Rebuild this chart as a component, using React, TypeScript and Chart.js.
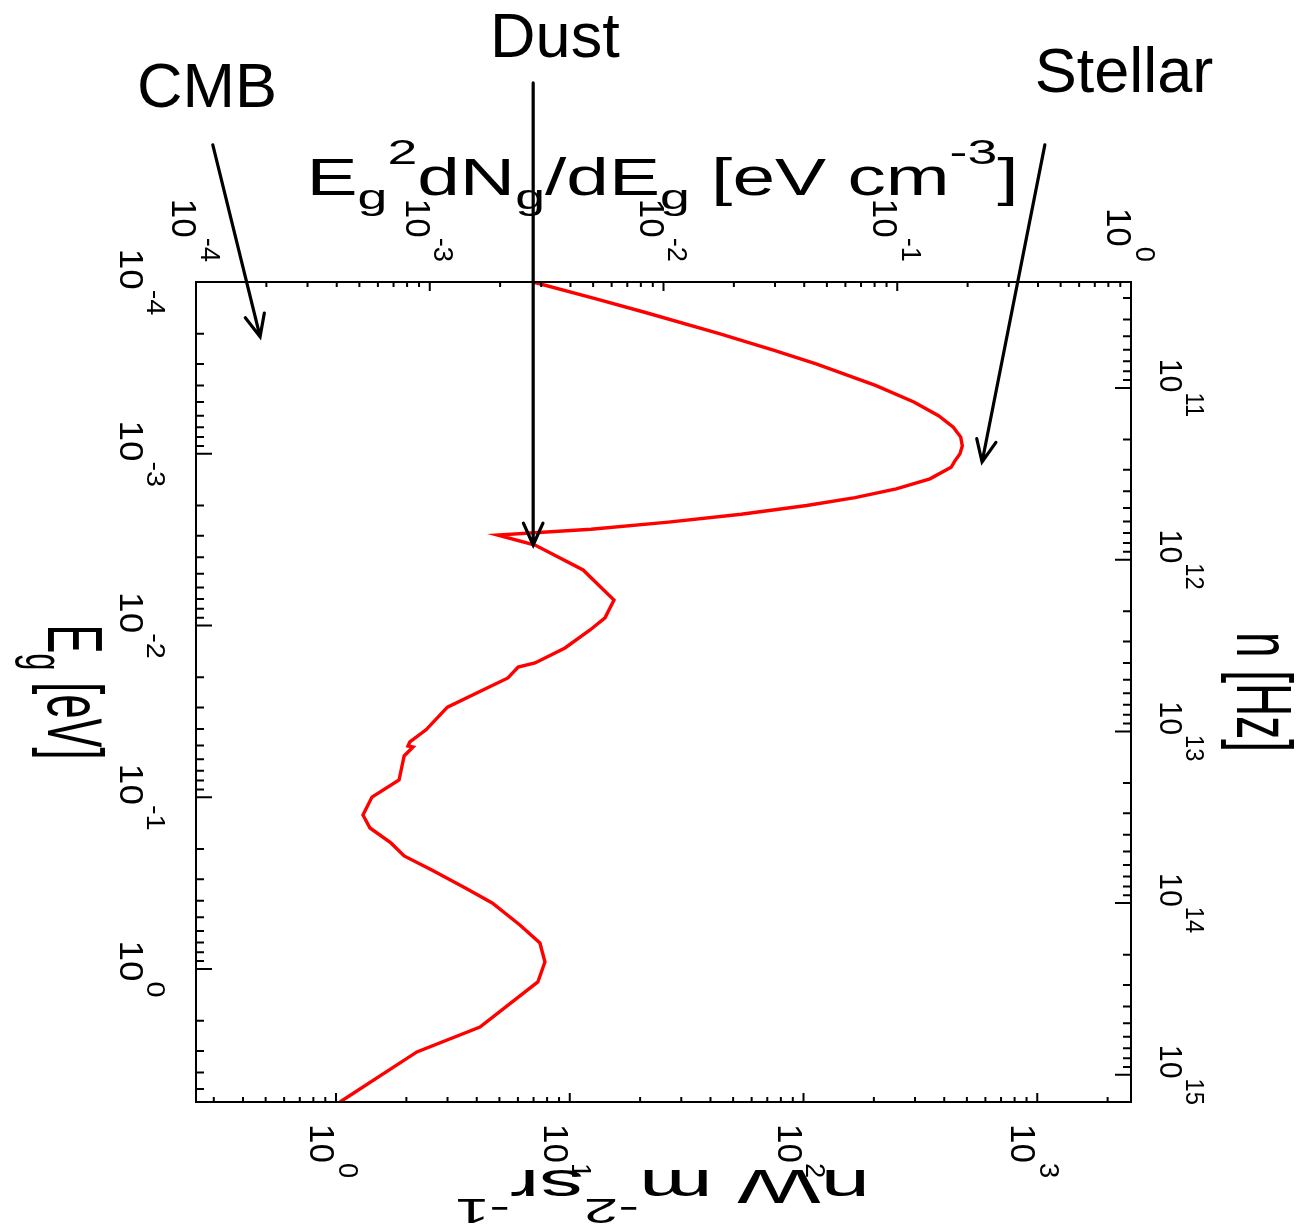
import { useEffect, useRef } from 'react';
import { Chart, registerables } from 'chart.js';

Chart.register(...registerables);

const PLANCK_EV_S = 4.1357e-15;

// photon energy E_g [eV] (vertical axis, increasing downwards)
const photonEnergy = [
  1e-4, 1.25e-4, 1.5e-4, 2e-4, 2.5e-4, 3e-4, 4e-4, 5e-4, 6e-4, 7e-4, 8e-4, 9e-4,
  1e-3, 1.1e-3, 1.2e-3, 1.4e-3, 1.6e-3, 1.8e-3, 2e-3, 2.25e-3, 2.5e-3, 2.75e-3, 2.97e-3,
  3.4e-3, 4.75e-3, 7.11e-3, 9.03e-3, 0.01062, 0.01352, 0.01652, 0.01745, 0.0202, 0.0299,
  0.0405, 0.0476, 0.0503, 0.051, 0.0575, 0.0794, 0.0998, 0.1268, 0.151, 0.1845, 0.2197,
  0.2654, 0.3375, 0.413, 0.5546, 0.706, 0.91, 1.19, 2.18, 3.04, 5.95,
];
// E_g^2 dN_g/dE_g [eV cm^-3] (horizontal axis)
const energyDensity = [
  2.77e-3, 5.1e-3, 8.3e-3, 0.01733, 0.02975, 0.04497, 0.0807, 0.1178, 0.1502, 0.1737, 0.1869, 0.1898,
  0.1855, 0.1765, 0.17, 0.138, 0.099, 0.066, 0.041, 0.0215, 0.0105, 4.9e-3, 1.95e-3,
  2.82e-3, 4.53e-3, 6.14e-3, 5.62e-3, 4.85e-3, 3.79e-3, 2.82e-3, 2.39e-3, 2.16e-3, 1.19e-3,
  9.64e-4, 8.22e-4, 8.07e-4, 8.48e-4, 7.77e-4, 7.39e-4, 5.66e-4, 5.18e-4, 5.55e-4, 6.82e-4, 7.77e-4,
  1.02e-3, 1.42e-3, 1.85e-3, 2.43e-3, 2.96e-3, 3.11e-3, 2.9e-3, 1.64e-3, 8.81e-4, 4.13e-4,
];

const energyMin = 1e-4;
const energyMax = 5.95;
const densityMin = 1e-4;
const densityMax = 1;
const fluxMin = 0.2518; // nW m^-2 sr^-1
const fluxMax = 2518;

const densityTicks = [1e-4, 1e-3, 1e-2, 1e-1, 1];
const densityTickExp = ['-4', '-3', '-2', '-1', '0'];
const energyTicks = [1e-4, 1e-3, 1e-2, 1e-1, 1];
const energyTickExp = ['-4', '-3', '-2', '-1', '0'];
const fluxTicks = [1, 10, 100, 1000];
const fluxTickExp = ['0', '1', '2', '3'];
const freqTicks = [1e11, 1e12, 1e13, 1e14, 1e15];
const freqTickExp = ['11', '12', '13', '14', '15'];

// annotation arrows, in data coordinates (density, energy): from -> to
const arrowNames = ['CMB', 'Dust', 'Stellar'];
const arrowFromX = [1.18e-4, 2.77e-3, 0.428];
const arrowFromY = [1.59e-5, 6.93e-6, 1.59e-5];
const arrowToX = [1.88e-4, 2.77e-3, 0.2306];
const arrowToY = [2.08e-4, 3.4e-3, 1.117e-3];
// annotation label anchors (centre, baseline), data coordinates
const labelX = [1.115e-4, 3.43e-3, 0.933];
const labelY = [9.57e-6, 4.9e-6, 7.83e-6];

const FONT = '"Liberation Sans", Arial, Helvetica, sans-serif';

type Part = { t: string; k?: 'sup' | 'sub' };

function parts10(exp: string): Part[] {
  return [{ t: '10' }, { t: exp, k: 'sup' }];
}

function drawRich(
  ctx: CanvasRenderingContext2D,
  parts: Part[],
  x: number,
  y: number,
  angle: number,
  size: number,
  align: 'left' | 'center' | 'right',
  fit?: number,
  sx = 1,
  supScale = 0.7,
  rise = 0.6,
) {
  ctx.save();
  ctx.translate(x, y);
  ctx.rotate(angle);
  ctx.textBaseline = 'alphabetic';
  ctx.textAlign = 'left';
  ctx.fillStyle = '#000';
  let total = 0;
  for (const p of parts) {
    ctx.font = `${p.k ? size * supScale : size}px ${FONT}`;
    total += ctx.measureText(p.t).width;
  }
  const scale = fit ? fit / total : sx;
  ctx.scale(scale, 1);
  let cx = align === 'left' ? 0 : align === 'center' ? -total / 2 : -total;
  for (const p of parts) {
    ctx.font = `${p.k ? size * supScale : size}px ${FONT}`;
    const dy = p.k === 'sup' ? -size * rise : p.k === 'sub' ? size * 0.28 : 0;
    ctx.fillText(p.t, cx, dy);
    cx += ctx.measureText(p.t).width;
  }
  ctx.restore();
}

function minorValues(min: number, max: number) {
  const out: { v: number; major: boolean }[] = [];
  const k0 = Math.floor(Math.log10(min)) - 1;
  const k1 = Math.ceil(Math.log10(max)) + 1;
  for (let k = k0; k <= k1; k++) {
    for (let m = 1; m <= 9; m++) {
      const v = m * Math.pow(10, k);
      if (v >= min * 0.9999 && v <= max * 1.0001) out.push({ v, major: m === 1 });
    }
  }
  return out;
}

const overlay = {
  id: 'overlay',
  afterDraw(chart: any) {
    const ctx: CanvasRenderingContext2D = chart.ctx;
    const a = chart.chartArea;
    const sx = chart.scales.x;
    const sxb = chart.scales.xb;
    const sy = chart.scales.y;
    const syr = chart.scales.yr;
    ctx.save();
    ctx.strokeStyle = '#000';
    ctx.lineWidth = 2;
    ctx.strokeRect(a.left, a.top, a.right - a.left, a.bottom - a.top);

    ctx.beginPath();
    for (const t of minorValues(sx.min, sx.max)) {
      const p = sx.getPixelForValue(t.v);
      ctx.moveTo(p, a.top);
      ctx.lineTo(p, a.top + (t.major ? 9 : 5));
    }
    for (const t of minorValues(sxb.min, sxb.max)) {
      const p = sxb.getPixelForValue(t.v);
      ctx.moveTo(p, a.bottom);
      ctx.lineTo(p, a.bottom - (t.major ? 9 : 5));
    }
    for (const t of minorValues(sy.min, sy.max)) {
      const p = sy.getPixelForValue(t.v);
      ctx.moveTo(a.left, p);
      ctx.lineTo(a.left + (t.major ? 16 : 8), p);
    }
    for (const t of minorValues(syr.min, syr.max)) {
      const p = syr.getPixelForValue(t.v);
      ctx.moveTo(a.right, p);
      ctx.lineTo(a.right - (t.major ? 16 : 8), p);
    }
    ctx.stroke();

    const R = Math.PI / 2;
    densityTicks.forEach((v, i) => {
      const p = sx.getPixelForValue(v);
      drawRich(ctx, parts10(densityTickExp[i]), p - 24, a.top - 20, R, 35, 'right', undefined, 1.0, 0.78, 0.82);
    });
    energyTicks.forEach((v, i) => {
      const p = sy.getPixelForValue(v);
      drawRich(ctx, parts10(energyTickExp[i]), a.left - 76, p, R, 33, 'center', undefined, 1.12, 0.78, 0.82);
    });
    fluxTicks.forEach((v, i) => {
      const p = sxb.getPixelForValue(v);
      drawRich(ctx, parts10(fluxTickExp[i]), p - 26, a.bottom + 22, R, 35, 'left', undefined, 1.0, 0.78, 0.82);
    });
    freqTicks.forEach((v, i) => {
      const p = syr.getPixelForValue(v);
      drawRich(ctx, parts10(freqTickExp[i]), a.right + 29, p, R, 32, 'center', undefined, 0.95, 0.78, 0.82);
    });

    // axis titles
    drawRich(
      ctx,
      [
        { t: 'E' }, { t: 'g', k: 'sub' }, { t: '2', k: 'sup' }, { t: 'dN' }, { t: 'g', k: 'sub' },
        { t: '/dE' }, { t: 'g', k: 'sub' }, { t: ' [eV cm' }, { t: '-3', k: 'sup' }, { t: ']' },
      ],
      (a.left + a.right) / 2 - 1, a.top - 87, 0, 51, 'center', 712,
    );
    drawRich(ctx, [{ t: 'E' }, { t: 'g', k: 'sub' }, { t: ' [eV]' }], a.left - 148, 692, R, 77, 'center', 135);
    drawRich(ctx, [{ t: 'n [Hz]' }], a.right + 106, 692, R, 78, 'center', 120);
    drawRich(
      ctx,
      [{ t: 'nW m' }, { t: '-2', k: 'sup' }, { t: 'sr' }, { t: '-1', k: 'sup' }],
      (a.left + a.right) / 2 - 1, a.bottom + 68, Math.PI, 49, 'center', 415,
    );

    // arrows
    ctx.lineWidth = 3.2;
    ctx.lineCap = 'round';
    arrowNames.forEach((_, i) => {
      const x0 = sx.getPixelForValue(arrowFromX[i]);
      const y0 = sy.getPixelForValue(arrowFromY[i]);
      const x1 = sx.getPixelForValue(arrowToX[i]);
      const y1 = sy.getPixelForValue(arrowToY[i]);
      const ang = Math.atan2(y1 - y0, x1 - x0);
      const L = 24;
      const h = 0.42;
      ctx.beginPath();
      ctx.moveTo(x0, y0);
      ctx.lineTo(x1, y1);
      ctx.moveTo(x1 - L * Math.cos(ang - h), y1 - L * Math.sin(ang - h));
      ctx.lineTo(x1, y1);
      ctx.lineTo(x1 - L * Math.cos(ang + h), y1 - L * Math.sin(ang + h));
      ctx.stroke();
      drawRich(ctx, [{ t: arrowNames[i] }], sx.getPixelForValue(labelX[i]), sy.getPixelForValue(labelY[i]), 0, 63, 'center');
    });
    ctx.restore();
  },
};

export default function App() {
  const ref = useRef<HTMLCanvasElement>(null);
  useEffect(() => {
    const canvas = ref.current!;
    const points = photonEnergy.map((e, i) => ({ x: energyDensity[i], y: e }));
    const chart = new Chart(canvas, {
      type: 'scatter',
      data: {
        datasets: [
          {
            data: points,
            showLine: true,
            borderColor: '#ff0000',
            borderWidth: 3.4,
            pointRadius: 0,
            tension: 0,
            xAxisID: 'x',
            yAxisID: 'y',
          },
        ],
      },
      options: {
        responsive: false,
        animation: false,
        layout: { padding: { left: 196, top: 282, right: 165, bottom: 122 } },
        plugins: { legend: { display: false }, tooltip: { enabled: false } },
        scales: {
          x: { type: 'logarithmic', position: 'top', min: densityMin, max: densityMax, display: false },
          xb: { type: 'logarithmic', position: 'bottom', min: fluxMin, max: fluxMax, display: false },
          y: { type: 'logarithmic', position: 'left', min: energyMin, max: energyMax, reverse: true, display: false },
          yr: {
            type: 'logarithmic',
            position: 'right',
            min: energyMin / PLANCK_EV_S,
            max: energyMax / PLANCK_EV_S,
            reverse: true,
            display: false,
          },
        },
      },
      plugins: [overlay],
    });
    return () => chart.destroy();
  }, []);
  return (
    <div style={{ position: 'absolute', left: 0, top: 0, width: 1296, height: 1224, background: '#fff' }}>
      <canvas ref={ref} width={1296} height={1224} style={{ display: 'block', width: 1296, height: 1224 }} />
    </div>
  );
}
